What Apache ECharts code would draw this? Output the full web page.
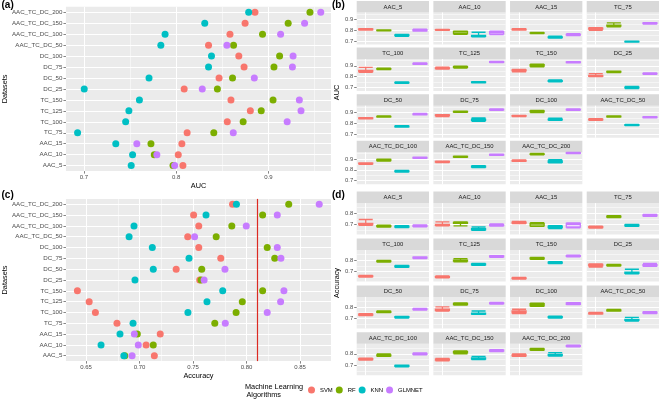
<!DOCTYPE html>
<html><head><meta charset="utf-8">
<script src="https://cdn.jsdelivr.net/npm/echarts@6/dist/echarts.min.js"></script>
<style>html,body{margin:0;padding:0;background:#fff}#c{width:659px;height:399px}</style>
</head><body><div id="c"></div>
<script>
// ---------- data ----------
const datasets = ['AAC_5','AAC_10','AAC_15','TC_75','TC_100','TC_125','TC_150','DC_25','DC_50','DC_75','DC_100','AAC_TC_DC_50','AAC_TC_DC_100','AAC_TC_DC_150','AAC_TC_DC_200'];
const algorithms = ['SVM','RF','KNN','GLMNET'];
const algoColors = ['#F8766D','#7CAE00','#00BFC4','#C77CFF'];

// (a) AUC per dataset
const aucSVM    = [0.8073,0.8023,0.8062,0.8119,0.8554,0.8804,0.8594,0.8087,0.8465,0.8736,0.8679,0.8351,0.8583,0.8747,0.8854];
const aucRF     = [0.7966,0.7763,0.7727,0.8408,0.8726,0.8922,0.9050,0.8447,0.8611,0.9060,0.9121,0.8622,0.8936,0.9214,0.9450];
const aucKNN    = [0.7513,0.7528,0.7346,0.6932,0.7453,0.7488,0.7602,0.7004,0.7706,0.8351,0.8383,0.7834,0.7880,0.8310,0.8786];
const aucGLMNET = [0.7984,0.7791,0.7574,0.8619,0.9203,0.9353,0.9335,0.8283,0.8847,0.9260,0.9267,0.8550,0.9132,0.9392,0.9567];

// (c) Accuracy per dataset
const accSVM    = [0.7138,0.7061,0.7193,0.6789,0.6587,0.6529,0.6419,0.7562,0.7342,0.7759,0.7553,0.7450,0.7553,0.7505,0.7869];
const accRF     = [0.6862,0.7128,0.6979,0.7703,0.7902,0.7960,0.8150,0.7575,0.7581,0.8263,0.8193,0.7716,0.7862,0.8150,0.8394];
const accKNN    = [0.6853,0.6640,0.6817,0.6939,0.7452,0.7630,0.7777,0.6957,0.7128,0.7462,0.7119,0.6902,0.6948,0.7621,0.7905];
const accGLMNET = [0.6930,0.6988,0.6951,0.7801,0.8193,0.8318,0.8349,0.7603,0.7798,0.8321,0.8287,0.7514,0.7997,0.8287,0.8679];
const accThreshold = 0.81;

// tick values
const aucTicks = [0.7,0.8,0.9];
const aucMinor = [0.75,0.85,0.95];
const accTicks = [0.65,0.70,0.75,0.80,0.85];
const accMinor = [0.675,0.725,0.775,0.825,0.875];
const facetAucTicks = [0.7,0.8,0.9];
const facetAucMinor = [0.75,0.85,0.95];
const facetAccTicks = [0.7,0.8];
const facetAccMinor = [0.65,0.75,0.85];

// (b) AUC box stats [min, q1, median, q3, max] per dataset
const aucBoxSVM = [[0.800,0.803,0.806,0.810,0.812],[0.798,0.800,0.802,0.805,0.807],[0.800,0.803,0.806,0.809,0.812],[0.798,0.808,0.812,0.817,0.822],[0.840,0.846,0.852,0.858,0.885],[0.870,0.874,0.877,0.881,0.888],[0.845,0.853,0.858,0.862,0.866],[0.800,0.803,0.806,0.812,0.828],[0.840,0.843,0.846,0.849,0.852],[0.862,0.870,0.873,0.877,0.880],[0.862,0.865,0.868,0.870,0.873],[0.828,0.832,0.835,0.838,0.842],[0.852,0.856,0.858,0.861,0.864],[0.868,0.872,0.874,0.877,0.880],[0.878,0.882,0.885,0.888,0.891]];
const aucBoxRF = [[0.792,0.794,0.797,0.799,0.801],[0.760,0.768,0.782,0.787,0.790],[0.768,0.771,0.773,0.775,0.778],[0.830,0.836,0.840,0.845,0.866],[0.866,0.869,0.872,0.875,0.878],[0.880,0.886,0.889,0.892,0.898],[0.890,0.898,0.904,0.910,0.915],[0.838,0.842,0.845,0.848,0.851],[0.856,0.859,0.861,0.864,0.867],[0.900,0.903,0.906,0.909,0.912],[0.898,0.906,0.912,0.915,0.918],[0.856,0.859,0.862,0.865,0.868],[0.880,0.886,0.891,0.896,0.900],[0.915,0.918,0.921,0.924,0.927],[0.938,0.942,0.945,0.948,0.952]];
const aucBoxKNN = [[0.742,0.748,0.751,0.755,0.760],[0.738,0.742,0.746,0.752,0.780],[0.726,0.730,0.733,0.737,0.745],[0.688,0.691,0.693,0.696,0.699],[0.738,0.742,0.745,0.748,0.752],[0.742,0.746,0.749,0.752,0.755],[0.752,0.756,0.759,0.763,0.770],[0.690,0.696,0.700,0.704,0.710],[0.764,0.768,0.771,0.774,0.777],[0.818,0.826,0.832,0.838,0.850],[0.828,0.832,0.835,0.839,0.847],[0.778,0.781,0.784,0.787,0.790],[0.780,0.783,0.787,0.790,0.794],[0.820,0.826,0.830,0.834,0.838],[0.864,0.870,0.876,0.882,0.895]];
const aucBoxGLMNET = [[0.790,0.793,0.800,0.804,0.808],[0.758,0.765,0.780,0.786,0.790],[0.750,0.753,0.756,0.759,0.766],[0.856,0.859,0.862,0.865,0.868],[0.914,0.917,0.920,0.923,0.926],[0.930,0.933,0.935,0.938,0.941],[0.927,0.930,0.933,0.936,0.939],[0.822,0.825,0.828,0.831,0.834],[0.878,0.881,0.884,0.887,0.890],[0.920,0.923,0.926,0.929,0.932],[0.920,0.923,0.926,0.929,0.932],[0.850,0.853,0.855,0.858,0.861],[0.906,0.909,0.912,0.915,0.918],[0.933,0.936,0.939,0.942,0.945],[0.950,0.953,0.956,0.959,0.962]];

// (d) Accuracy box stats
const accBoxSVM = [[0.695,0.700,0.705,0.712,0.745],[0.690,0.694,0.698,0.702,0.725],[0.710,0.714,0.718,0.722,0.728],[0.670,0.675,0.679,0.683,0.688],[0.652,0.656,0.659,0.662,0.666],[0.645,0.649,0.653,0.657,0.662],[0.635,0.639,0.642,0.645,0.649],[0.738,0.750,0.757,0.762,0.767],[0.726,0.730,0.734,0.738,0.742],[0.765,0.770,0.775,0.780,0.800],[0.742,0.748,0.755,0.765,0.780],[0.737,0.741,0.745,0.749,0.753],[0.746,0.751,0.755,0.759,0.763],[0.740,0.745,0.750,0.755,0.760],[0.778,0.782,0.786,0.790,0.800]];
const accBoxRF = [[0.680,0.683,0.687,0.692,0.696],[0.690,0.712,0.716,0.720,0.724],[0.685,0.690,0.705,0.712,0.718],[0.762,0.766,0.770,0.774,0.778],[0.782,0.786,0.790,0.793,0.797],[0.784,0.790,0.795,0.800,0.812],[0.806,0.810,0.814,0.818,0.822],[0.748,0.752,0.755,0.758,0.762],[0.750,0.754,0.758,0.762,0.766],[0.816,0.820,0.826,0.830,0.836],[0.805,0.810,0.820,0.828,0.832],[0.763,0.767,0.771,0.775,0.779],[0.778,0.782,0.786,0.790,0.800],[0.800,0.808,0.814,0.820,0.825],[0.830,0.835,0.839,0.843,0.847]];
const accBoxKNN = [[0.675,0.679,0.683,0.687,0.691],[0.650,0.655,0.660,0.665,0.680],[0.665,0.675,0.682,0.687,0.692],[0.686,0.690,0.694,0.698,0.702],[0.737,0.741,0.745,0.749,0.753],[0.755,0.759,0.763,0.767,0.771],[0.770,0.774,0.778,0.782,0.786],[0.680,0.685,0.690,0.695,0.720],[0.703,0.707,0.711,0.715,0.719],[0.735,0.738,0.742,0.746,0.765],[0.704,0.708,0.712,0.716,0.720],[0.678,0.683,0.687,0.692,0.710],[0.687,0.691,0.695,0.699,0.703],[0.750,0.755,0.760,0.765,0.778],[0.780,0.785,0.790,0.795,0.810]];
const accBoxGLMNET = [[0.682,0.686,0.690,0.694,0.698],[0.687,0.691,0.695,0.700,0.706],[0.672,0.680,0.700,0.710,0.715],[0.773,0.777,0.781,0.785,0.789],[0.812,0.816,0.820,0.824,0.828],[0.823,0.827,0.831,0.835,0.839],[0.827,0.831,0.835,0.839,0.843],[0.745,0.750,0.755,0.760,0.770],[0.772,0.776,0.780,0.784,0.788],[0.825,0.829,0.832,0.836,0.840],[0.820,0.823,0.828,0.834,0.838],[0.743,0.747,0.751,0.755,0.759],[0.792,0.796,0.800,0.804,0.808],[0.820,0.824,0.828,0.832,0.836],[0.860,0.864,0.868,0.872,0.876]];

// ---------- build ----------
const FONT = '"Liberation Sans", Arial, sans-serif';
const grids = [], xAxes = [], yAxes = [], series = [], graphics = [];

function minorLines(vals, axisKey) {
  return {
    silent: true, symbol: ['none','none'], z: 1, animation: false,
    label: { show: false }, emphasis: { disabled: true },
    lineStyle: { color: '#ffffff', width: 0.5, type: 'solid', opacity: 1 },
    data: vals.map(v => ({ [axisKey]: v }))
  };
}

function dotPanel(top, height, min, max, ticks, minors, decimals, title, valueSets, refLine) {
  const gi = grids.length;
  grids.push({ left: 61, top: top, width: 270, height: height, show: true, backgroundColor: '#EBEBEB', borderWidth: 0 });
  xAxes.push({
    gridIndex: gi, type: 'value', min: min, max: max,
    name: title, nameLocation: 'middle', nameGap: 11,
    nameTextStyle: { fontSize: 7.3, color: '#000', fontFamily: FONT },
    axisLine: { show: false },
    axisTick: { show: true, length: 2.5, lineStyle: { color: '#333', width: 0.6 }, customValues: ticks },
    axisLabel: { fontSize: 6, color: '#4D4D4D', margin: 3.5, fontFamily: FONT, customValues: ticks, formatter: v => Number(v).toFixed(decimals) },
    splitLine: { show: true, lineStyle: { color: '#ffffff', width: 1 } }
  });
  yAxes.push({
    gridIndex: gi, type: 'category', data: datasets,
    name: 'Datasets', nameLocation: 'middle', nameGap: 52,
    nameTextStyle: { fontSize: 7.3, color: '#000', fontFamily: FONT },
    axisLine: { show: false },
    axisTick: { show: true, alignWithLabel: true, length: 2.5, lineStyle: { color: '#333', width: 0.6 } },
    axisLabel: { fontSize: 6.2, color: '#4D4D4D', margin: 3.5, fontFamily: FONT },
    splitLine: { show: true, alignWithLabel: true, lineStyle: { color: '#ffffff', width: 1 } }
  });
  valueSets.forEach((vals, i) => {
    const s = {
      type: 'scatter', name: algorithms[i], xAxisIndex: gi, yAxisIndex: gi,
      symbolSize: 7, z: 3, itemStyle: { color: algoColors[i], opacity: 1 },
      emphasis: { disabled: true },
      data: vals.map((v, j) => [v, datasets[j]])
    };
    if (i === 0) s.markLine = minorLines(minors, 'xAxis');
    if (i === 1 && refLine != null) {
      s.markLine = {
        silent: true, symbol: ['none','none'], z: 2, animation: false,
        label: { show: false }, emphasis: { disabled: true },
        lineStyle: { color: '#DC2A22', width: 1.2, type: 'solid', opacity: 1 },
        data: [{ xAxis: refLine }]
      };
    }
    series.push(s);
  });
}

function facetPanel(baseTop, pitch, panelH, yMin, yMax, ticks, minors, boxes) {
  for (let k = 0; k < datasets.length; k++) {
    const r = Math.floor(k / 4), c = k % 4;
    const left = 356.7 + c * 76.67;
    const stripTop = baseTop + r * pitch;
    const top = stripTop + 11.5;
    const gi = grids.length;
    grids.push({ left: left, top: top, width: 72.3, height: panelH, show: true, backgroundColor: '#EBEBEB', borderWidth: 0 });
    xAxes.push({
      gridIndex: gi, type: 'category', data: algorithms,
      axisLine: { show: false }, axisTick: { show: false }, axisLabel: { show: false },
      splitLine: { show: true, alignWithLabel: true, lineStyle: { color: '#ffffff', width: 1 } }
    });
    yAxes.push({
      gridIndex: gi, type: 'value', min: yMin, max: yMax,
      axisLine: { show: false },
      axisTick: { show: c === 0, length: 2.5, lineStyle: { color: '#333', width: 0.6 }, customValues: ticks },
      axisLabel: { show: c === 0, fontSize: 5.9, color: '#4D4D4D', margin: 3.5, fontFamily: FONT, customValues: ticks, formatter: v => Number(v).toFixed(1) },
      splitLine: { show: true, lineStyle: { color: '#ffffff', width: 1 } }
    });
    series.push({
      type: 'boxplot', name: 'box', xAxisIndex: gi, yAxisIndex: gi, z: 3,
      boxWidth: [14, 14], emphasis: { disabled: true },
      data: algorithms.map((a, i) => ({
        value: boxes[i][k],
        itemStyle: { color: '#ffffff', borderColor: algoColors[i], borderWidth: 1.3 }
      })),
      markLine: minorLines(minors, 'yAxis')
    });
    graphics.push({ type: 'rect', silent: true, shape: { x: left, y: stripTop, width: 72.3, height: 11.5 }, style: { fill: '#D9D9D9' } });
    graphics.push({ type: 'text', silent: true, x: left + 36.15, y: stripTop + 6, style: { text: datasets[k], fontSize: 5.9, fill: '#1A1A1A', align: 'center', verticalAlign: 'middle', fontFamily: FONT } });
  }
}

dotPanel(6.8, 164.3, 0.6806, 0.9678, aucTicks, aucMinor, 1, 'AUC', [aucSVM, aucRF, aucKNN, aucGLMNET], null);
dotPanel(198.9, 162.2, 0.6312, 0.8789, accTicks, accMinor, 2, 'Accuracy', [accSVM, accRF, accKNN, accGLMNET], accThreshold);
facetPanel(1, 46.6, 32, 0.667, 0.962, facetAucTicks, facetAucMinor, [aucBoxSVM, aucBoxRF, aucBoxKNN, aucBoxGLMNET]);
facetPanel(191.6, 46.9, 31.5, 0.614, 0.887, facetAccTicks, facetAccMinor, [accBoxSVM, accBoxRF, accBoxKNN, accBoxGLMNET]);

const labelStyle = (t) => ({ text: t, fontSize: 10, fontWeight: 'bold', fill: '#000', fontFamily: FONT, verticalAlign: 'middle' });
graphics.push({ type: 'text', silent: true, x: 1.5, y: 5, style: labelStyle('(a)') });
graphics.push({ type: 'text', silent: true, x: 332, y: 5.5, style: labelStyle('(b)') });
graphics.push({ type: 'text', silent: true, x: 1.5, y: 195.5, style: labelStyle('(c)') });
graphics.push({ type: 'text', silent: true, x: 332, y: 195.5, style: labelStyle('(d)') });
graphics.push({ type: 'text', silent: true, x: 336.5, y: 92.5, rotation: Math.PI / 2, style: { text: 'AUC', fontSize: 7.3, fill: '#000', fontFamily: FONT, align: 'center', verticalAlign: 'middle' } });
graphics.push({ type: 'text', silent: true, x: 336.5, y: 283, rotation: Math.PI / 2, style: { text: 'Accuracy', fontSize: 7.3, fill: '#000', fontFamily: FONT, align: 'center', verticalAlign: 'middle' } });
graphics.push({ type: 'text', silent: true, x: 245, y: 387.3, style: { text: 'Machine Learning', fontSize: 7.3, fill: '#000', fontFamily: FONT, verticalAlign: 'middle' } });
graphics.push({ type: 'text', silent: true, x: 246.5, y: 395, style: { text: 'Algorithms', fontSize: 7.3, fill: '#000', fontFamily: FONT, verticalAlign: 'middle' } });

const chart = echarts.init(document.getElementById('c'), null, { renderer: 'canvas' });
chart.setOption({
  animation: false,
  backgroundColor: '#ffffff',
  grid: grids, xAxis: xAxes, yAxis: yAxes, series: series,
  legend: {
    data: algorithms, left: 308, top: 386.5, icon: 'circle',
    itemWidth: 7, itemHeight: 7, itemGap: 3, padding: 0,
    textStyle: { fontSize: 5.9, color: '#000', fontFamily: FONT }
  },
  graphic: graphics
});
</script></body></html>
